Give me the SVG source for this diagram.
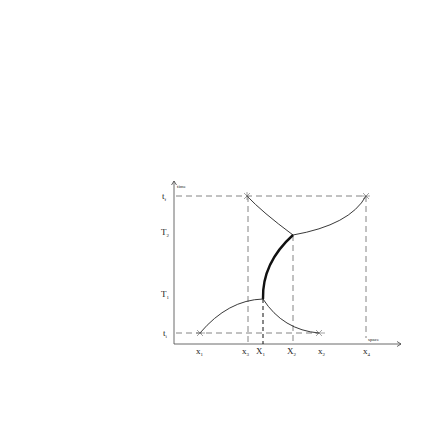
<svg xmlns="http://www.w3.org/2000/svg" width="436" height="436" viewBox="0 0 436 436">
<style>
.ax{stroke:#444;stroke-width:0.8;fill:none}
.d{stroke:#666;stroke-width:0.8;stroke-dasharray:6,4;fill:none}
.db{stroke:#111;stroke-width:1;stroke-dasharray:4,3;fill:none}
.c{stroke:#222;stroke-width:0.9;fill:none}
.th{stroke:#111;stroke-width:2.4;fill:none}
.s{stroke:#666;stroke-width:0.6}
text{font-family:"Liberation Serif",serif;fill:#222}
.l{font-size:9px}
.sm{font-size:5px}
</style>
<rect width="436" height="436" fill="#fff"/>
<g id="axes">
<path class="ax" d="M174,344 V181 M171.5,185 L174,181 L176.5,185"/>
<path class="ax" d="M174,344 H401 M397,341.5 L401,344 L397,346.5"/>
</g>
<g id="connectors">
<path class="d" d="M176,196 H366"/>
<path class="d" d="M176,333 H319"/>
<path class="d" d="M248,196 V344"/>
<path class="d" d="M293,235 V344"/>
<path class="d" d="M366,196 V338"/>
<path class="db" d="M263,299 V344"/>
<path class="c" d="M247,196 Q262,212 293,235"/>
<path class="c" d="M293,235 Q350,225 366,196"/>
<path class="th" d="M263,299 Q262,263 293,235"/>
<path class="c" d="M263,299 Q228,300 200,333"/>
<path class="c" d="M263,299 Q283,330 319,333"/>
</g>
<g id="stars">
<path class="s" d="M244,193 L250,199 M244,199 L250,193 M247,192 V200"/>
<path class="s" d="M363,193 L369,199 M363,199 L369,193 M362,196 H370"/>
<path class="s" d="M197,330 L203,336 M197,336 L203,330 M196,333 H205"/>
<path class="s" d="M316,330 L322,336 M316,336 L322,330 M315,333 H325"/>
</g>
<g id="labels">
<text class="sm" x="177" y="188">time</text>
<text class="sm" x="368" y="341">space</text>
<text class="l" x="162" y="199">t<tspan font-size="5" dy="2">f</tspan></text>
<text class="l" x="161" y="235">T<tspan font-size="5" dy="2">2</tspan></text>
<text class="l" x="161" y="297">T<tspan font-size="5" dy="2">1</tspan></text>
<text class="l" x="163" y="336">t<tspan font-size="5" dy="2">i</tspan></text>
<text class="l" x="196" y="354">x<tspan font-size="5" dy="2">1</tspan></text>
<text class="l" x="242" y="354">x<tspan font-size="5" dy="2">3</tspan></text>
<text class="l" x="256" y="354">X<tspan font-size="5" dy="2">1</tspan></text>
<text class="l" x="287" y="354">X<tspan font-size="5" dy="2">2</tspan></text>
<text class="l" x="318" y="354">x<tspan font-size="5" dy="2">2</tspan></text>
<text class="l" x="363" y="354">x<tspan font-size="5" dy="2">4</tspan></text>
</g>
</svg>
